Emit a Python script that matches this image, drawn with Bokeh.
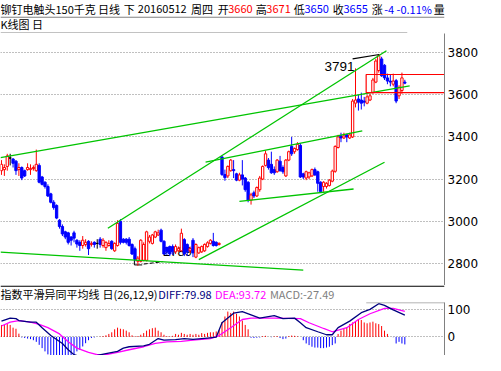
from bokeh.plotting import figure
from bokeh.models import Range1d, FixedTicker, ColumnDataSource
from bokeh.layouts import column
from bokeh.embed import file_html
from bokeh.resources import INLINE
from bokeh.core.properties import value

# ---------------- data ----------------
opens = [3240, 3245, 3260, 3300, 3295, 3285, 3245, 3255, 3240, 3245,
         3245, 3250, 3240, 3265, 3210, 3185, 3165, 3130, 3090, 3075,
         3005, 2975, 2950, 2945, 2925, 2945, 2910, 2900, 2885, 2890,
         2905, 2890, 2900, 2895, 2915, 2885, 2875, 2885, 2905, 2860,
         2885, 3000, 2915, 2915, 2915, 2890, 2870, 2810, 2810, 2815,
         2815, 2905, 2895, 2925, 2935, 2958, 2905, 2875, 2880, 2880,
         2855, 2860, 2860, 2913, 2890, 2860, 2910, 2830, 2850, 2855,
         2860, 2880, 2895, 2905, 2900, 2890, 3305, 3222, 3215, 3240,
         3245, 3225, 3195, 3220, 3205, 3185, 3100, 3135, 3120, 3150,
         3200, 3265, 3290, 3270, 3245, 3235, 3285, 3255, 3215, 3290,
         3355, 3330, 3340, 3360, 3225, 3205, 3210, 3215, 3245, 3235,
         3185, 3165, 3165, 3170, 3190, 3237, 3350, 3405, 3395, 3410,
         3395, 3400, 3560, 3580, 3575, 3570, 3560, 3575, 3610, 3660,
         3715, 3770, 3740, 3680, 3665, 3650, 3667, 3595, 3620, 3660]
highs = [3290, 3270, 3320, 3320, 3300, 3290, 3275, 3260, 3245, 3275,
         3270, 3265, 3340, 3275, 3215, 3190, 3175, 3135, 3100, 3080,
         3010, 2985, 2955, 2950, 2930, 2955, 2915, 2910, 2930, 2915,
         2910, 2905, 2905, 2915, 2925, 2920, 2905, 2910, 2910, 2900,
         3005, 3010, 2920, 2920, 2925, 2895, 2880, 2835, 2915, 2900,
         2955, 2935, 2940, 2955, 2960, 2965, 2910, 2880, 2885, 2890,
         2890, 2880, 2965, 2920, 2895, 2880, 2920, 2895, 2880, 2885,
         2895, 2905, 2915, 2945, 2905, 2900, 3310, 3245, 3265, 3295,
         3290, 3230, 3230, 3290, 3210, 3190, 3135, 3145, 3165, 3215,
         3265, 3335, 3300, 3330, 3260, 3295, 3310, 3265, 3295, 3335,
         3400, 3350, 3375, 3370, 3230, 3240, 3235, 3250, 3255, 3240,
         3190, 3190, 3185, 3200, 3245, 3360, 3410, 3420, 3420, 3415,
         3420, 3580, 3725, 3600, 3610, 3590, 3600, 3605, 3680, 3770,
         3791, 3780, 3745, 3700, 3695, 3700, 3675, 3645, 3705, 3671]
lows = [3220, 3215, 3240, 3265, 3255, 3220, 3215, 3195, 3210, 3240,
        3220, 3240, 3235, 3180, 3170, 3155, 3115, 3085, 3055, 3010,
        2965, 2930, 2915, 2890, 2885, 2900, 2875, 2860, 2870, 2880,
        2840, 2880, 2875, 2870, 2875, 2875, 2860, 2880, 2865, 2855,
        2880, 2890, 2895, 2890, 2880, 2840, 2810, 2789, 2805, 2810,
        2810, 2895, 2890, 2920, 2930, 2900, 2840, 2840, 2835, 2840,
        2845, 2855, 2855, 2835, 2835, 2850, 2830, 2825, 2845, 2850,
        2855, 2875, 2890, 2880, 2880, 2885, 3215, 3192, 3205, 3235,
        3205, 3190, 3190, 3170, 3140, 3090, 3079, 3110, 3115, 3140,
        3195, 3260, 3245, 3225, 3220, 3230, 3235, 3225, 3210, 3285,
        3310, 3320, 3335, 3205, 3200, 3195, 3200, 3210, 3215, 3140,
        3135, 3140, 3155, 3165, 3185, 3230, 3345, 3375, 3390, 3375,
        3390, 3395, 3540, 3525, 3530, 3545, 3555, 3570, 3605, 3655,
        3705, 3685, 3670, 3650, 3640, 3640, 3560, 3580, 3605, 3650]
closes = [3270, 3255, 3310, 3300, 3275, 3240, 3255, 3205, 3215, 3255,
          3250, 3255, 3270, 3185, 3175, 3165, 3120, 3090, 3065, 3015,
          2975, 2940, 2925, 2900, 2910, 2920, 2892, 2885, 2910, 2900,
          2870, 2895, 2890, 2895, 2890, 2910, 2900, 2895, 2870, 2895,
          2990, 2900, 2900, 2900, 2885, 2845, 2820, 2825, 2910, 2890,
          2950, 2925, 2935, 2950, 2945, 2905, 2845, 2855, 2845, 2855,
          2880, 2870, 2943, 2845, 2855, 2870, 2850, 2890, 2875, 2880,
          2890, 2898, 2910, 2885, 2885, 2895, 3222, 3207, 3260, 3290,
          3240, 3195, 3220, 3200, 3150, 3100, 3125, 3120, 3160, 3205,
          3260, 3320, 3255, 3230, 3230, 3290, 3240, 3235, 3290, 3330,
          3320, 3345, 3365, 3210, 3210, 3235, 3230, 3245, 3220, 3180,
          3140, 3185, 3180, 3195, 3238, 3355, 3400, 3395, 3405, 3400,
          3410, 3570, 3575, 3565, 3560, 3565, 3590, 3595, 3670, 3760,
          3785, 3690, 3680, 3665, 3660, 3665, 3570, 3635, 3680, 3655]
macd_hist = [44, 44, 47, 44, 34, 30, 12,
             -2,
             -4, -6, -8, -12, -18, -29, -41, -53, -64, -72, -78, -80, -82, -80,
             -78, -74, -70, -64, -53, -47, -35, -23, -12, -4,
             -2, 0, 1, 3,
             6, 11, 17, 28, 34, 30, 28, 23, 17, 6, 2,
             3, 8, 14, 23, 28, 32, 34, 23, 17, 8, 3,
             2, 4, 11, 8, 15, 11, 8, 11, 8, 11, 8, 14, 11, 15, 17,
             17, 20, 25, 55, 75, 93, 88, 93, 85, 75, 60, 44, 28,
             -3, -4, -3, -2,
             3, 4,
             0, -1, 2, 3,
             -4, -8, -6,
             3, 5, 4, 2, 0,
             -12, -24, -30, -36, -39, -39, -41, -41, -39, -36, -30, -24,
             11, 23, 29, 35, 47, 53, 58, 64, 62, 53, 50, 53, 56, 50, 47, 40, 23, 11,
             0, -1,
             -24, -18, -24, -27.49]
diff_pos = [0, 3, 5, 6, 10, 12, 14, 17, 21, 23, 25, 28, 31, 33, 36, 40, 42, 44,
            49, 51, 54, 56, 60, 63, 66, 71, 74, 76, 80, 83, 86, 89, 91, 94, 97,
            101, 103, 105, 109, 112, 114, 116, 120, 124, 127, 130, 132, 135, 139]
diff_val = [58, 69, 67, 60, 54, 54, 34, 5, -24, -47, -65, -75, -72, -68, -61, -53, -41, -36,
            -33, -27, -6, -12, -10, -6, -9, -4, -1, 52, 87, 93, 81, 69, 73, 78, 67,
            69, 52, 34, 19, 8, 8, 34, 58, 89, 101, 122, 116, 99, 79.98]
dea_pos = [0, 3, 6, 10, 13, 16, 20, 23, 26, 30, 33, 36, 40, 44, 49, 53, 57, 62,
           66, 72, 75, 79, 83, 86, 94, 103, 106, 111, 114, 119, 123, 127, 132, 135, 139]
dea_val = [40, 54, 60, 54, 46, 34, 11, -18, -41, -57, -65, -65, -57, -47, -36, -24, -18, -16,
           -12, -6, 5, 34, 64, 69, 69, 67, 52, 31, 19, 34, 64, 85, 105, 105, 93.72]
price_ticks = [2800, 3000, 3200, 3400, 3600, 3800]
macd_ticks = [0, 100]

# hand-drawn analysis lines on the chart: (bar index, price) pairs
trend_lines = [((-0.33, 2854), (104, 2768)),
               ((-0.33, 3302), (140.67, 3642)),
               ((36.67, 2967), (132.67, 3809)),
               ((70.33, 3281), (124.33, 3429)),
               ((82, 3094), (121.33, 3153)),
               ((68, 2818), (132, 3280))]
high_mark = (111.3, 3732, "3791")
high_line = ((121, 3770), (130.2, 3791))
low_mark = (55.7, 2859, "2789")
box = (125.67, 154, 3696, 3610)

title_parts = [(0, "铆钉电触头150千克", "#000000"), (110, "日线", "#000000"),
               (139, "下", "#000000"), (155, "20160512", "#000000"),
               (215, "周四", "#000000"), (245, "开", "#000000"), (257, "3660", "#ff0000"),
               (288, "高", "#000000"), (300, "3671", "#ff0000"),
               (331, "低", "#000000"), (343, "3650", "#0000ff"),
               (375, "收", "#000000"), (387, "3655", "#0000ff"),
               (419, "涨", "#000000"), (433, "-4 -0.11%", "#0000ff"),
               (489, "量", "#000000")]
macd_parts = [(0, "指数平滑异同平均线", "#000000"), (115, "日(26,12,9)", "#000000"),
              (178, "DIFF:79.98", "#000080"), (242, "DEA:93.72", "#ff00ff"),
              (304, "MACD:-27.49", "#808080")]

W = 485
CJK = value("Noto Sans CJK SC")
RED, BLUE, GREEN, GRAY = "#ff0000", "#0000ff", "#00c400", "#808080"


def blank(h, yr):
    f = figure(width=W, height=h, x_range=Range1d(0, 501), y_range=yr,
               x_axis_location=None, y_axis_location=None, min_border=0,
               output_backend="svg", toolbar_location=None)
    f.grid.visible = False
    f.outline_line_color = None
    return f


def put_texts(f, parts, y, size):
    for x, t, c in parts:
        f.text(x=[x], y=[y], text=[t], text_font=CJK, text_font_size=size,
               text_color=c, text_baseline="middle", text_align="left")


# ---------------- header ----------------
head = blank(33, Range1d(34.5, 0))
put_texts(head, title_parts, 8.5, "11px")
head.segment(x0=[0], y0=[17.5], x1=[501], y1=[17.5], line_color=GRAY, line_width=1)
put_texts(head, [(0, "K线图 日", "#000000")], 25, "11px")
head.segment(x0=[0], y0=[34], x1=[459], y1=[34], line_color=GRAY, line_width=1)

# ---------------- main K-line chart ----------------
xr = Range1d(-1 / 3, 152.667)
main = figure(width=W, height=252, x_range=xr, y_range=Range1d(2695.4, 3890.5),
              x_axis_location=None, y_axis_location="right", min_border_left=0,
              min_border_right=41, min_border_top=0, min_border_bottom=0,
              output_backend="svg", toolbar_location=None)
main.outline_line_color = None
main.xgrid.visible = False


def style_axis(f, ticks):
    f.yaxis.ticker = FixedTicker(ticks=ticks)
    f.ygrid.ticker = FixedTicker(ticks=ticks)
    f.ygrid.grid_line_color = GRAY
    f.ygrid.grid_line_dash = "1 2"
    f.ygrid.grid_line_width = 1
    f.yaxis.axis_line_color = GRAY
    f.yaxis.major_tick_line_color = None
    f.yaxis.minor_tick_line_color = None
    f.yaxis.major_tick_out = 0
    f.yaxis.major_tick_in = 0
    f.yaxis.major_label_standoff = 3
    f.yaxis.major_label_text_font = "DejaVu Sans"
    f.yaxis.major_label_text_font_size = "12px"
    f.yaxis.major_label_text_color = "#000000"


style_axis(main, price_ticks)

# low label (behind candles)
main.text(x=[low_mark[0]], y=[low_mark[1]], text=[low_mark[2]],
          text_font=value("Liberation Sans"), text_font_size="13px",
          text_color="#000000", text_baseline="middle", text_align="left")
main.line(x=[45.8, 45.8, 48.5], y=[2823, 2793, 2793], line_color="#000000", line_width=1)
main.line(x=[49, 55.5], y=[2797, 2808], line_color="#000000", line_width=1, line_dash="4 2")

n = len(closes)
idx = list(range(n))
top = [max(o, c) for o, c in zip(opens, closes)]
bot = [min(o, c) for o, c in zip(opens, closes)]
lc = [RED if c > o else (BLUE if c < o else "#000000") for o, c in zip(opens, closes)]
fc = ["#ffffff" if c > o else col for o, c, col in zip(opens, closes, lc)]
src = ColumnDataSource(dict(x=idx, left=[i - 0.4 for i in idx], right=[i + 0.4 for i in idx],
                            top=top, bot=bot, high=highs, low=lows, lc=lc, fc=fc))
main.segment(x0="x", y0="high", x1="x", y1="top", line_color="lc", line_width=1, source=src)
main.segment(x0="x", y0="bot", x1="x", y1="low", line_color="lc", line_width=1, source=src)
main.quad(left="left", right="right", top="top", bottom="bot", fill_color="fc",
          line_color="lc", line_width=1, source=src)

for (x0, y0), (x1, y1) in trend_lines:
    main.line(x=[x0, x1], y=[y0, y1], line_color=GREEN, line_width=1.3)

main.quad(left=[box[0]], right=[box[1]], top=[box[2]], bottom=[box[3]],
          fill_color=None, line_color=RED, line_width=1.2)
main.line(x=[high_line[0][0], high_line[1][0]], y=[high_line[0][1], high_line[1][1]],
          line_color="#000000", line_width=1.2)
main.text(x=[high_mark[0]], y=[high_mark[1]], text=[high_mark[2]],
          text_font=value("Liberation Sans"), text_font_size="13.5px",
          text_color="#000000", text_baseline="middle", text_align="left")

# ---------------- MACD title ----------------
mt = blank(17, Range1d(315.5, 297.8))
mt.segment(x0=[0], y0=[298.4], x1=[501], y1=[298.4], line_color="#000000", line_width=1.4)
put_texts(mt, macd_parts, 307, "11px")

# ---------------- MACD panel ----------------
macd = figure(width=W, height=53, x_range=xr, y_range=Range1d(-68.1, 126.3),
              x_axis_location=None, y_axis_location="right", min_border_left=0,
              min_border_right=41, min_border_top=0, min_border_bottom=0,
              output_backend="svg", toolbar_location=None)
macd.outline_line_color = None
macd.xgrid.visible = False
style_axis(macd, macd_ticks)
hc = [RED if h > 0 else BLUE for h in macd_hist]
hsrc = ColumnDataSource(dict(x=list(range(len(macd_hist))), y0=[0] * len(macd_hist),
                             y1=macd_hist, c=hc))
macd.segment(x0="x", y0="y0", x1="x", y1="y1", line_color="c", line_width=1, source=hsrc)
macd.line(x=dea_pos, y=dea_val, line_color="#ff00ff", line_width=1.3)
macd.line(x=diff_pos, y=diff_val, line_color="#000080", line_width=1.3)
macd.segment(x0=[125.7], y0=[125.6], x1=[153], y1=[125.6], line_color=GRAY, line_width=1)

layout = column(head, main, mt, macd, spacing=0)
open("out.html", "w").write(file_html(layout, INLINE))
